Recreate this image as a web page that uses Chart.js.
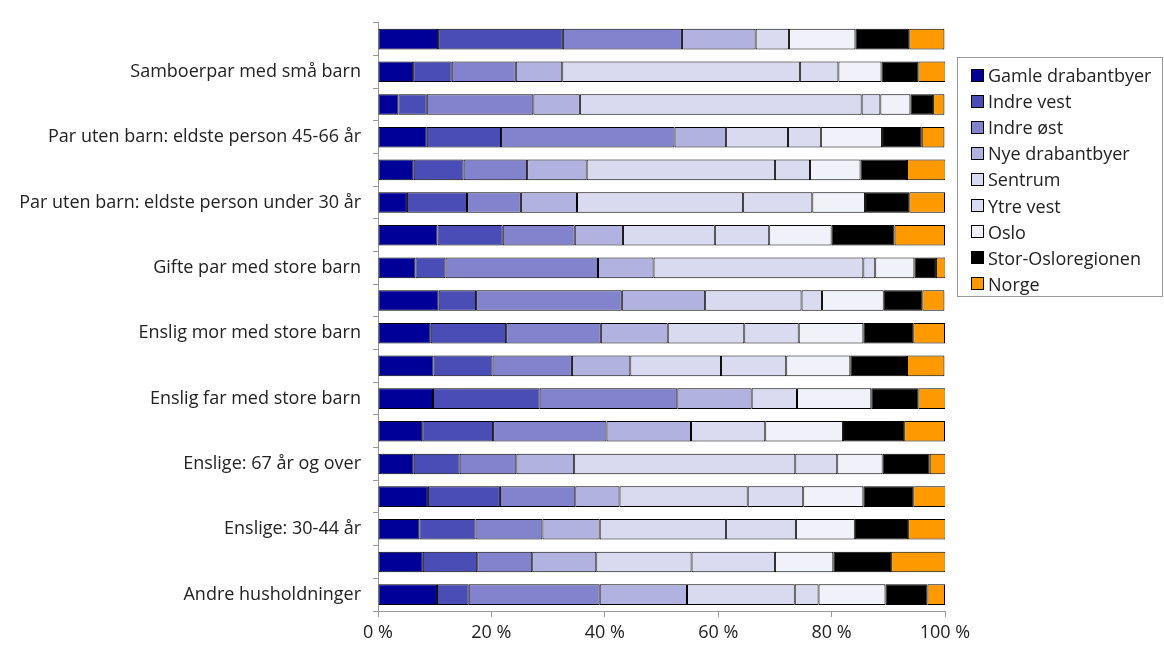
<!DOCTYPE html>
<html>
<head>
<meta charset="utf-8">
<script src="https://cdn.jsdelivr.net/npm/chart.js@4"></script>
<style>
  html, body { margin: 0; padding: 0; background: #fff; }
  #wrap { position: relative; width: 1164px; height: 653px; }
  #legend {
    position: absolute; left: 957px; top: 57px; width: 206px; height: 240px;
    box-sizing: border-box; border: 1px solid #999; padding-top: 4px;
    font-family: "Open Sans", sans-serif; font-size: 18px; color: #222;
  }
  #legend div { height: 26.1px; display: flex; align-items: center; padding-left: 13px; white-space: nowrap; }
  #legend span { display: inline-block; width: 11px; height: 11px; border: 1px solid #000; margin-right: 4px; }
</style>
</head>
<body>
<div id="wrap">
  <canvas id="barChart" width="1164" height="653"></canvas>
  <div id="legend"></div>
</div>
<script>
// categories, top to bottom
var categories = [
  'Samboerpar med store barn',
  'Samboerpar med små barn',
  'Par uten barn: eldste person 67 år og over',
  'Par uten barn: eldste person 45-66 år',
  'Par uten barn: eldste person 30-44 år',
  'Par uten barn: eldste person under 30 år',
  'Gifte par med små barn',
  'Gifte par med store barn',
  'Enslig mor med små barn',
  'Enslig mor med store barn',
  'Enslig far med små barn',
  'Enslig far med store barn',
  'Mor/far med voksne barn',
  'Enslige: 67 år og over',
  'Enslige: 45-66 år',
  'Enslige: 30-44 år',
  'Enslige: under 30 år',
  'Andre husholdninger'
];

var seriesNames = ['Gamle drabantbyer', 'Indre vest', 'Indre øst', 'Nye drabantbyer',
  'Sentrum', 'Ytre vest', 'Oslo', 'Stor-Osloregionen', 'Norge'];
var seriesColors = ['#000099', '#4b4db6', '#8383cd', '#b2b2e1', '#d9d9ef', '#dadaf0', '#f1f1fa', '#000000', '#ff9900'];

// shares in percent
var gamle     = [10.6, 6.2, 3.6, 8.6, 6.3, 5.1, 10.5, 6.6, 10.7, 9.3, 9.8, 9.7, 7.8, 6.3, 8.8, 7.3, 7.9, 10.4];
var indreVest = [22.0, 6.8, 5.0, 13.1, 8.8, 10.6, 11.5, 5.3, 6.6, 13.3, 10.4, 18.8, 12.5, 8.1, 12.7, 9.9, 9.6, 5.6];
var indreOst  = [21.0, 11.3, 18.8, 30.6, 11.2, 9.5, 12.7, 26.9, 25.7, 16.7, 14.0, 24.3, 20.0, 10.0, 13.3, 11.8, 9.7, 23.1];
var nye       = [13.0, 8.2, 8.2, 9.1, 10.5, 9.9, 8.5, 9.8, 14.7, 11.8, 10.3, 13.1, 14.9, 10.2, 7.8, 10.1, 11.3, 15.4];
var sentrum   = [0, 41.9, 49.7, 10.9, 33.2, 29.3, 16.2, 37.0, 17.0, 13.5, 16.0, 0, 0, 39.0, 22.6, 22.3, 16.8, 19.0];
var ytreVest  = [5.9, 6.8, 3.3, 5.8, 6.2, 12.2, 9.6, 2.1, 3.6, 9.6, 11.5, 8.0, 13.1, 7.4, 9.8, 12.3, 14.7, 4.2];
var oslo      = [11.7, 7.6, 5.3, 10.8, 8.9, 9.3, 11.0, 6.9, 10.9, 11.4, 11.3, 13.1, 13.7, 8.0, 10.6, 10.4, 10.3, 11.8];
var storOslo  = [9.5, 6.5, 4.0, 7.0, 8.2, 7.8, 11.1, 3.8, 6.8, 8.8, 10.0, 8.3, 10.8, 8.3, 8.8, 9.4, 10.2, 7.4];
var norge     = [6.2, 4.8, 2.0, 4.0, 6.8, 6.3, 8.9, 1.7, 3.9, 5.6, 6.6, 4.8, 7.2, 2.8, 5.8, 6.6, 9.6, 3.1];

var xTicks = [0, 20, 40, 60, 80, 100];

var seriesData = [gamle, indreVest, indreOst, nye, sentrum, ytreVest, oslo, storOslo, norge];
var datasets = seriesData.map(function (d, i) {
  return {
    label: seriesNames[i],
    data: d,
    backgroundColor: seriesColors[i],
    borderColor: '#000',
    borderWidth: 1,
    borderSkipped: false,
    barPercentage: 0.63,
    categoryPercentage: 1
  };
});

// legend as html
var legend = document.getElementById('legend');
seriesNames.forEach(function (name, i) {
  var row = document.createElement('div');
  row.innerHTML = '<span style="background:' + seriesColors[i] + '"></span>' + name;
  legend.appendChild(row);
});

var font = { family: '"Open Sans", sans-serif', size: 18 };
var ctx = document.getElementById('barChart').getContext('2d');
var barChart = new Chart(ctx, {
  type: 'bar',
  data: { labels: categories, datasets: datasets },
  options: {
    indexAxis: 'y',
    responsive: false,
    animation: false,
    events: [],
    layout: { padding: { top: 10, right: 219, bottom: 0, left: 0 } },
    plugins: { legend: { display: false }, tooltip: { enabled: false } },
    scales: {
      x: {
        stacked: true,
        min: 0,
        max: 100,
        afterBuildTicks: function (scale) {
          scale.ticks = xTicks.map(function (v) { return { value: v }; });
        },
        afterFit: function (scale) { scale.height = 42; },
        grid: { drawOnChartArea: false, color: '#999', tickLength: 6 },
        border: { color: '#999' },
        ticks: {
          color: '#222', font: font, padding: 5, maxRotation: 0,
          callback: function (v) { return v + ' %'; }
        }
      },
      y: {
        stacked: true,
        afterFit: function (scale) { scale.width = 378; },
        grid: { drawOnChartArea: false, offset: true, color: '#999', tickLength: 5 },
        border: { color: '#999' },
        ticks: {
          color: '#222', font: font, padding: 12, autoSkip: false,
          callback: function (value, index) {
            return index % 2 === 1 ? this.getLabelForValue(value) : '';
          }
        }
      }
    }
  }
});
</script>
</body>
</html>
